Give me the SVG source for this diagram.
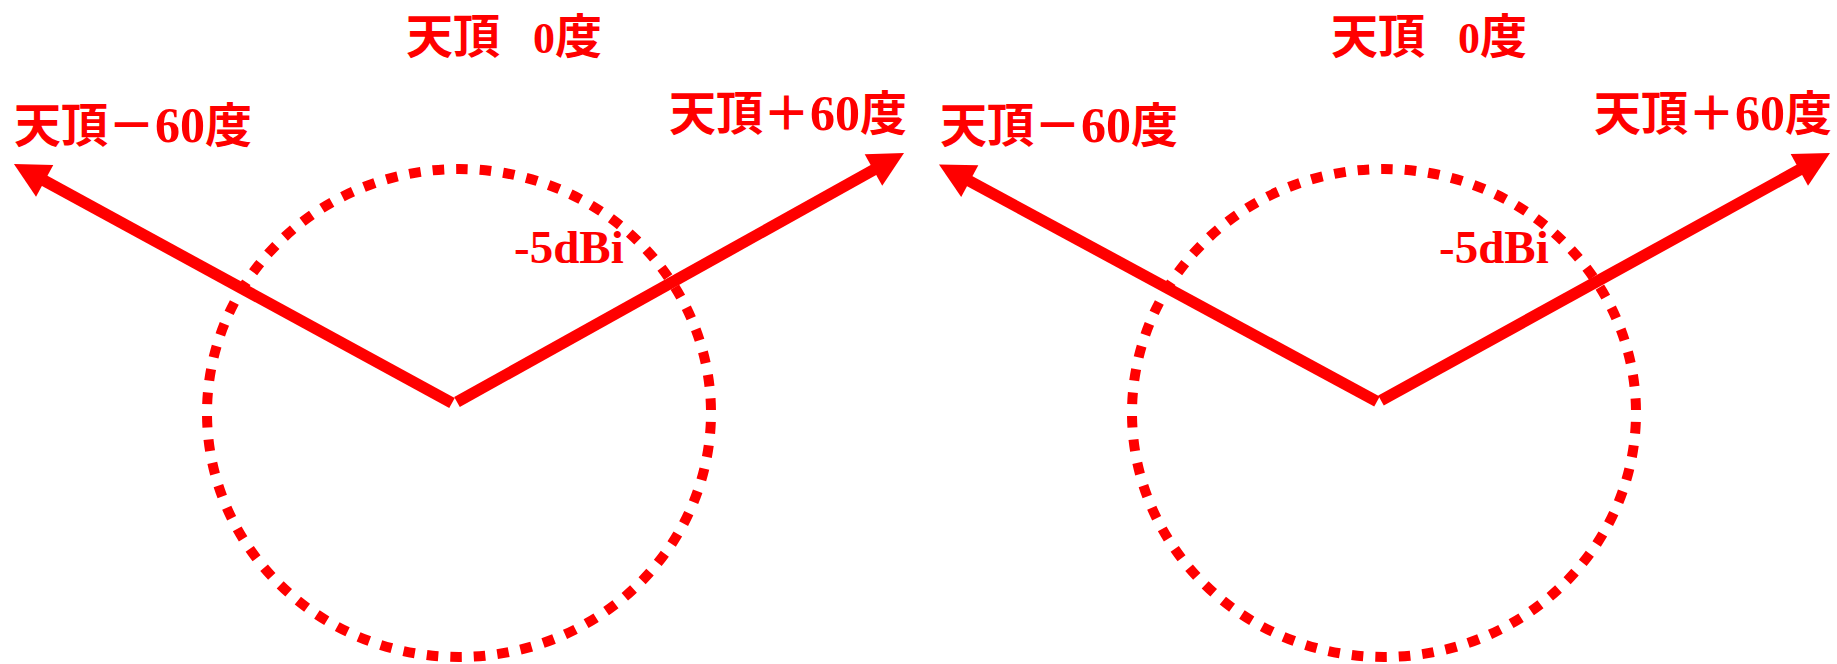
<svg xmlns="http://www.w3.org/2000/svg" width="1837" height="664" viewBox="0 0 1837 664">
  <style>
    .lbl { font-family: "Liberation Serif", "Noto Sans CJK JP", serif; font-weight: bold; font-size: 47px; fill: #FF0000; }
    .big { font-size: 50px; }
    .small { font-size: 44px; }
    .ring { fill: none; stroke: #FF0000; stroke-width: 10; stroke-dasharray: 11.6 12; stroke-dashoffset: 14.6; }
    .arrow { fill: none; stroke: #FF0000; stroke-width: 11.5; stroke-linecap: butt; marker-end: url(#head); }
  </style>
  <defs>
    <marker id="head" markerUnits="userSpaceOnUse" viewBox="0 0 35 36" markerWidth="35" markerHeight="36" refX="2" refY="18" orient="auto" overflow="visible">
      <path d="M0,0 L35,18 L0,36 Z" fill="#FF0000"/>
    </marker>
  </defs>
  <rect width="1837" height="664" fill="#FFFFFF"/>

  <g id="left-panel">
    <g id="left-pattern">
      <ellipse class="ring" cx="459" cy="413" rx="252" ry="244"/>
    </g>
    <g id="left-label-zenith">
      <text class="lbl" x="406" y="53" xml:space="preserve">天頂 <tspan x="533" class="small">0</tspan>度</text>
    </g>
    <g id="left-label-minus60">
      <text class="lbl" x="14" y="142">天頂－<tspan class="big">60</tspan>度</text>
    </g>
    <g id="left-label-plus60">
      <text class="lbl" x="669" y="130">天頂＋<tspan class="big">60</tspan>度</text>
    </g>
    <g id="left-label-gain">
      <text class="lbl" x="514" y="263">-5dBi</text>
    </g>
    <g id="left-connectors">
      <path class="arrow" d="M452,403 L42.9,179.9"/>
      <path class="arrow" d="M457,402 L875.2,169.1"/>
    </g>
  </g>

  <g id="right-panel">
    <g id="right-pattern">
      <ellipse class="ring" cx="1384" cy="413" rx="252" ry="244"/>
    </g>
    <g id="right-label-zenith">
      <text class="lbl" x="1331" y="53" xml:space="preserve">天頂 <tspan x="1458" class="small">0</tspan>度</text>
    </g>
    <g id="right-label-minus60">
      <text class="lbl" x="940" y="142">天頂－<tspan class="big">60</tspan>度</text>
    </g>
    <g id="right-label-plus60">
      <text class="lbl" x="1594" y="130">天頂＋<tspan class="big">60</tspan>度</text>
    </g>
    <g id="right-label-gain">
      <text class="lbl" x="1439" y="263">-5dBi</text>
    </g>
    <g id="right-connectors">
      <path class="arrow" d="M1377,401.5 L968,180.2"/>
      <path class="arrow" d="M1381,400.5 L1801.1,168.9"/>
    </g>
  </g>
</svg>
